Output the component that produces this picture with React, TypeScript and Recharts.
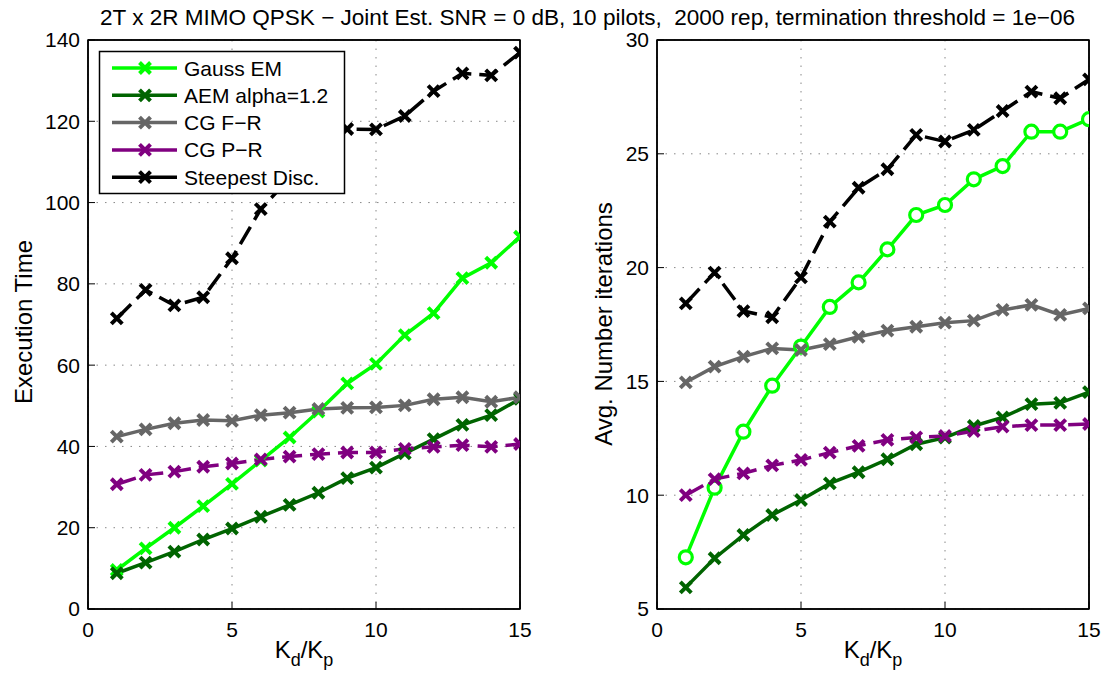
import React from "react";
import {
  LineChart,
  Line,
  XAxis,
  YAxis,
  CartesianGrid,
  ReferenceArea,
} from "recharts";

// K_d / K_p ratio on the x axis
const kdRatio = [1, 2, 3, 4, 5, 6, 7, 8, 9, 10, 11, 12, 13, 14, 15];

// left panel: execution time
const gaussEmTime = [9.6, 14.9, 20.0, 25.3, 30.8, 36.5, 42.2, 48.6, 55.5, 60.3, 67.4, 72.8, 81.4, 85.2, 91.6];
const aemTime = [8.8, 11.4, 14.1, 17.1, 19.8, 22.7, 25.6, 28.6, 32.2, 34.8, 38.3, 41.8, 45.3, 47.7, 51.7];
const cgFrTime = [42.4, 44.2, 45.7, 46.5, 46.3, 47.7, 48.3, 49.2, 49.5, 49.6, 50.1, 51.6, 52.1, 51.0, 52.1];
const cgPrTime = [30.7, 33.0, 33.8, 35.0, 35.8, 36.8, 37.5, 38.1, 38.5, 38.5, 39.4, 39.9, 40.3, 39.9, 40.6];
const steepestTime = [71.5, 78.5, 74.7, 76.7, 86.3, 98.4, 106, 112.5, 118.1, 118.0, 121.3, 127.4, 131.8, 131.3, 136.9];

// right panel: average number of iterations
const gaussEmIter = [7.27, 10.33, 12.79, 14.81, 16.53, 18.27, 19.35, 20.8, 22.31, 22.75, 23.88, 24.46, 25.97, 25.97, 26.52];
const aemIter = [5.95, 7.23, 8.25, 9.13, 9.79, 10.52, 11.01, 11.58, 12.24, 12.53, 13.04, 13.42, 14.0, 14.06, 14.53];
const cgFrIter = [14.96, 15.65, 16.09, 16.45, 16.38, 16.64, 16.96, 17.23, 17.4, 17.58, 17.67, 18.14, 18.36, 17.92, 18.21];
const cgPrIter = [10.0, 10.71, 10.96, 11.31, 11.55, 11.87, 12.17, 12.43, 12.54, 12.6, 12.82, 13.01, 13.08, 13.08, 13.13];
const steepestIter = [18.43, 19.78, 18.09, 17.82, 19.57, 22.02, 23.51, 24.32, 25.83, 25.54, 26.05, 26.88, 27.73, 27.44, 28.27];

const seriesNames = ["Gauss EM", "AEM alpha=1.2", "CG F\u2212R", "CG P\u2212R", "Steepest Disc."];
const xTicks = [0, 5, 10, 15];
const timeTicks = [0, 20, 40, 60, 80, 100, 120, 140];
const iterTicks = [5, 10, 15, 20, 25, 30];

const FONT = "'Liberation Sans', Arial, Helvetica, sans-serif";

const styles = [
  { key: "gauss", color: "#00ff00", dash: undefined },
  { key: "aem", color: "#006400", dash: undefined },
  { key: "cgfr", color: "#666666", dash: undefined },
  { key: "cgpr", color: "#800080", dash: "20 8" },
  { key: "steep", color: "#000000", dash: "20 8" },
];

const timeData = kdRatio.map((k, i) => ({
  k,
  gauss: gaussEmTime[i],
  aem: aemTime[i],
  cgfr: cgFrTime[i],
  cgpr: cgPrTime[i],
  steep: steepestTime[i],
}));

const iterData = kdRatio.map((k, i) => ({
  k,
  gauss: gaussEmIter[i],
  aem: aemIter[i],
  cgfr: cgFrIter[i],
  cgpr: cgPrIter[i],
  steep: steepestIter[i],
}));

const xMark = (color: string) => (props: any) => {
  const { cx, cy, index } = props;
  if (cx == null || cy == null) return <g key={index} />;
  const s = 5.5;
  return (
    <path
      key={index}
      d={`M${cx - s},${cy - s}L${cx + s},${cy + s}M${cx - s},${cy + s}L${cx + s},${cy - s}`}
      stroke={color}
      strokeWidth={4}
      fill="none"
    />
  );
};

const oMark = (color: string) => (props: any) => {
  const { cx, cy, index } = props;
  if (cx == null || cy == null) return <g key={index} />;
  return <circle key={index} cx={cx} cy={cy} r={6.5} stroke={color} strokeWidth={3.2} fill="#fff" />;
};

const axisLine = { stroke: "#000", strokeWidth: 1.5 };
const tickLine = { stroke: "#000", strokeWidth: 1 };

// plot area is 432 x 569 px; each axis takes 1px
const Panel = ({ data, domain, ticks, left, marginLeft, width, circles }: any) => (
  <div style={{ position: "absolute", left, top: 0 }}>
    <LineChart
      width={width}
      height={673}
      data={data}
      margin={{ top: 39, right: width - marginLeft - 434, bottom: 63, left: marginLeft }}
    >
      <CartesianGrid stroke="#888" strokeDasharray="1.5 7" />
      <XAxis
        dataKey="k"
        type="number"
        domain={[0, 15]}
        ticks={xTicks}
        height={1}
        tickSize={-7}
        tickMargin={20}
        tick={{ fontSize: 21, fill: "#000" }}
        axisLine={axisLine}
        tickLine={tickLine}
        allowDataOverflow
      />
      <XAxis
        xAxisId="top"
        orientation="top"
        dataKey="k"
        type="number"
        domain={[0, 15]}
        ticks={xTicks}
        height={1}
        tickSize={-7}
        tick={false}
        axisLine={axisLine}
        tickLine={tickLine}
      />
      <YAxis
        type="number"
        domain={domain}
        ticks={ticks}
        width={1}
        tickSize={-7}
        tickMargin={15}
        tick={{ fontSize: 21, fill: "#000" }}
        axisLine={axisLine}
        tickLine={tickLine}
        allowDataOverflow
      />
      <YAxis
        yAxisId="right"
        orientation="right"
        type="number"
        domain={domain}
        ticks={ticks}
        width={1}
        tickSize={-7}
        tick={false}
        axisLine={axisLine}
        tickLine={tickLine}
      />
      <ReferenceArea
        x1={0}
        x2={15}
        y1={domain[0]}
        y2={domain[1]}
        fill="none"
        fillOpacity={0}
        stroke="#000"
        strokeWidth={1.5}
        ifOverflow="visible"
      />
      {styles.map((s, i) => (
        <Line
          key={s.key}
          dataKey={s.key}
          name={seriesNames[i]}
          type="linear"
          stroke={s.color}
          strokeWidth={3.5}
          strokeDasharray={s.dash}
          dot={circles && s.key === "gauss" ? oMark(s.color) : xMark(s.color)}
          activeDot={false}
          isAnimationActive={false}
        />
      ))}
    </LineChart>
  </div>
);

export default function App() {
  return (
    <div
      style={{
        position: "absolute",
        left: 0,
        top: 0,
        width: 1103,
        height: 673,
        background: "#fff",
        fontFamily: FONT,
      }}
    >
      <Panel data={timeData} domain={[0, 140]} ticks={timeTicks} left={0} marginLeft={87} width={560} />
      <Panel data={iterData} domain={[5, 30]} ticks={iterTicks} left={600} marginLeft={56} width={503} circles />
      <svg
        width={1103}
        height={673}
        style={{ position: "absolute", left: 0, top: 0, pointerEvents: "none", fontFamily: FONT }}
      >
        <text
          x={100}
          y={25}
          fontSize={22}
          textLength={975}
          lengthAdjust="spacingAndGlyphs"
          style={{ whiteSpace: "pre" }}
        >
          {"2T x 2R MIMO QPSK \u2212 Joint Est. SNR = 0 dB, 10 pilots,  2000 rep, termination threshold = 1e\u221206"}
        </text>
        <text transform="translate(32,322) rotate(-90)" textAnchor="middle" fontSize={24}>
          Execution Time
        </text>
        <text transform="translate(612,324) rotate(-90)" textAnchor="middle" fontSize={24}>
          Avg. Number iterations
        </text>
        {[304, 873].map((cx) => (
          <text key={cx} x={cx} y={658} textAnchor="middle" fontSize={24}>
            K
            <tspan fontSize={18} dy={8}>d</tspan>
            <tspan dy={-8}>/K</tspan>
            <tspan fontSize={18} dy={8}>p</tspan>
          </text>
        ))}
        <g>
          <rect x={99.5} y={51.5} width={245} height={142} fill="#fff" stroke="#000" strokeWidth={1.5} />
          {styles.map((s, i) => {
            const cy = 68 + i * 27.3;
            return (
              <g key={s.key}>
                <line x1={112} x2={177} y1={cy} y2={cy} stroke={s.color} strokeWidth={3.5} />
                {xMark(s.color)({ cx: 145, cy, index: i })}
                <text x={184} y={cy + 7.5} fontSize={21}>
                  {seriesNames[i]}
                </text>
              </g>
            );
          })}
        </g>
      </svg>
    </div>
  );
}
